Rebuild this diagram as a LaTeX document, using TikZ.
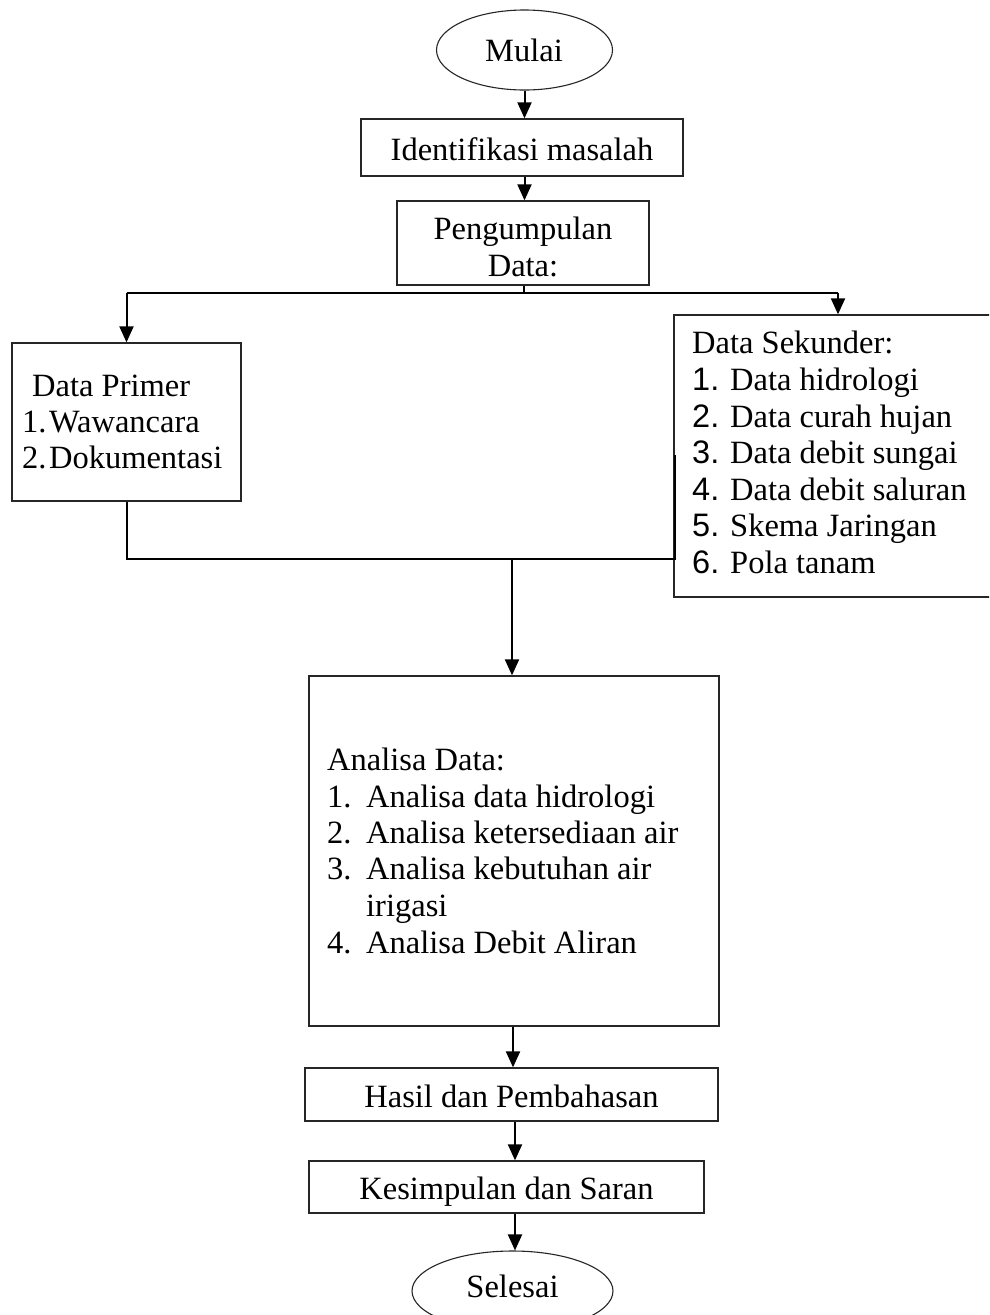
\documentclass[tikz,border=0pt]{standalone}
\usepackage{fontspec}
\setmainfont{Liberation Serif}
\newfontfamily\arialfont{Liberation Sans}
\usetikzlibrary{arrows.meta,shapes.geometric}
\begin{document}
\begin{tikzpicture}[x=1pt,y=-1pt,
  box/.style={draw=black!85,line width=1.3pt,rectangle,inner sep=0pt},
  oval/.style={draw=black!85,line width=1.1pt,ellipse,inner sep=0pt},
  txt/.style={inner sep=0pt,anchor=base,font=\fontsize{32.5}{36}\selectfont},
  txtl/.style={txt,anchor=base west},
  conn/.style={line width=2pt,black},
  arr/.style={conn,-{Triangle[length=16pt,width=14pt]}}]
\useasboundingbox (0,0) rectangle (989,1315);
\clip (0,0) rectangle (989,1315);
\fill[white] (0,0) rectangle (989,1315);

% shapes
\node[oval,minimum width=176pt,minimum height=80pt] (mulai) at (524.5,50) {};
\node[box,minimum width=322pt,minimum height=57pt] (ident) at (522,147.5) {};
\node[box,minimum width=252pt,minimum height=84pt] (peng) at (523,243) {};
\node[box,minimum width=229pt,minimum height=158pt] (primer) at (126.5,422) {};
\node[box,minimum width=330pt,minimum height=282pt] (sekunder) at (839,456) {};
\node[box,minimum width=410pt,minimum height=350pt] (analisa) at (514,851) {};
\node[box,minimum width=413pt,minimum height=53pt] (hasil) at (511.5,1094.5) {};
\node[box,minimum width=395pt,minimum height=52pt] (kesim) at (506.5,1187) {};
\node[oval,minimum width=201pt,minimum height=80pt] (selesai) at (512.5,1291) {};

% texts
\node[txt] (tmulai) at (524,61) {Mulai};
\node[txt] (tident) at (522,160) {Identifikasi masalah};
\node[txt] (tpeng1) at (523,239) {Pengumpulan};
\node[txt] (tpeng2) at (523,276) {Data:};

\node[txtl] (tpr0) at (32,396) {Data Primer};
\node[txtl] (tpr1) at (22,432) {1.\hspace{2.5pt}Wawancara};
\node[txtl] (tpr2) at (22,468) {2.\hspace{2.5pt}Dokumentasi};

\node[txtl] (tse0) at (692,353) {Data Sekunder:};
\foreach \n/\t/\y in {1/Data hidrologi/390, 2/Data curah hujan/427, 3/Data debit sungai/463, 4/Data debit saluran/500, 5/Skema Jaringan/536, 6/Pola tanam/573}{
  \node[txtl] (tsn\n) at (692,\y) {\arialfont\n.};
  \node[txtl] (tst\n) at (730,\y) {\t};
}

\node[txtl] (tan0) at (327,770) {Analisa Data:};
\foreach \n/\t/\y in {1/Analisa data hidrologi/807, 2/Analisa ketersediaan air/843, 3/Analisa kebutuhan air/879, 4/Analisa Debit Aliran/953}{
  \node[txtl] (tan\n) at (327,\y) {\n.};
  \node[txtl] (tat\n) at (366,\y) {\t};
}
\node[txtl] (tat3b) at (366,916) {irigasi};

\node[txt] (thasil) at (511.5,1107) {Hasil dan Pembahasan};
\node[txt] (tkesim) at (506.5,1199) {Kesimpulan dan Saran};
\node[txt] (tselesai) at (512.5,1297) {Selesai};

% connectors
\coordinate (sp) at (524,293);
\coordinate (spL) at (126.5,293);
\coordinate (spR) at (838,293);
\coordinate (jn) at (512,559);
\coordinate (jR) at (675,455);

\draw[arr] (mulai.south) -- (mulai.south |- ident.north);
\draw[arr] (ident.south -| mulai.south) -- (peng.north -| mulai.south);
\draw[line width=1.2pt] (peng.south -| sp) -- (sp);
\draw[conn] (spL) -- (spR);
\draw[arr] (spL) -- (primer.north);
\draw[arr] (spR) -- (spR |- sekunder.north);
\draw[conn] (primer.south) -- (primer.south |- jn) -- (jR |- jn) -- (jR);
\draw[arr] (jn) -- (jn |- analisa.north);
\draw[arr] ([xshift=-1pt]analisa.south) -- ([xshift=-1pt]analisa.south |- hasil.north);
\draw[arr] ([xshift=3.5pt]hasil.south) -- ([xshift=3.5pt]hasil.south |- kesim.north);
\draw[arr] ([xshift=8.5pt]kesim.south) -- ([xshift=8.5pt]kesim.south |- selesai.north);
\end{tikzpicture}
\end{document}
